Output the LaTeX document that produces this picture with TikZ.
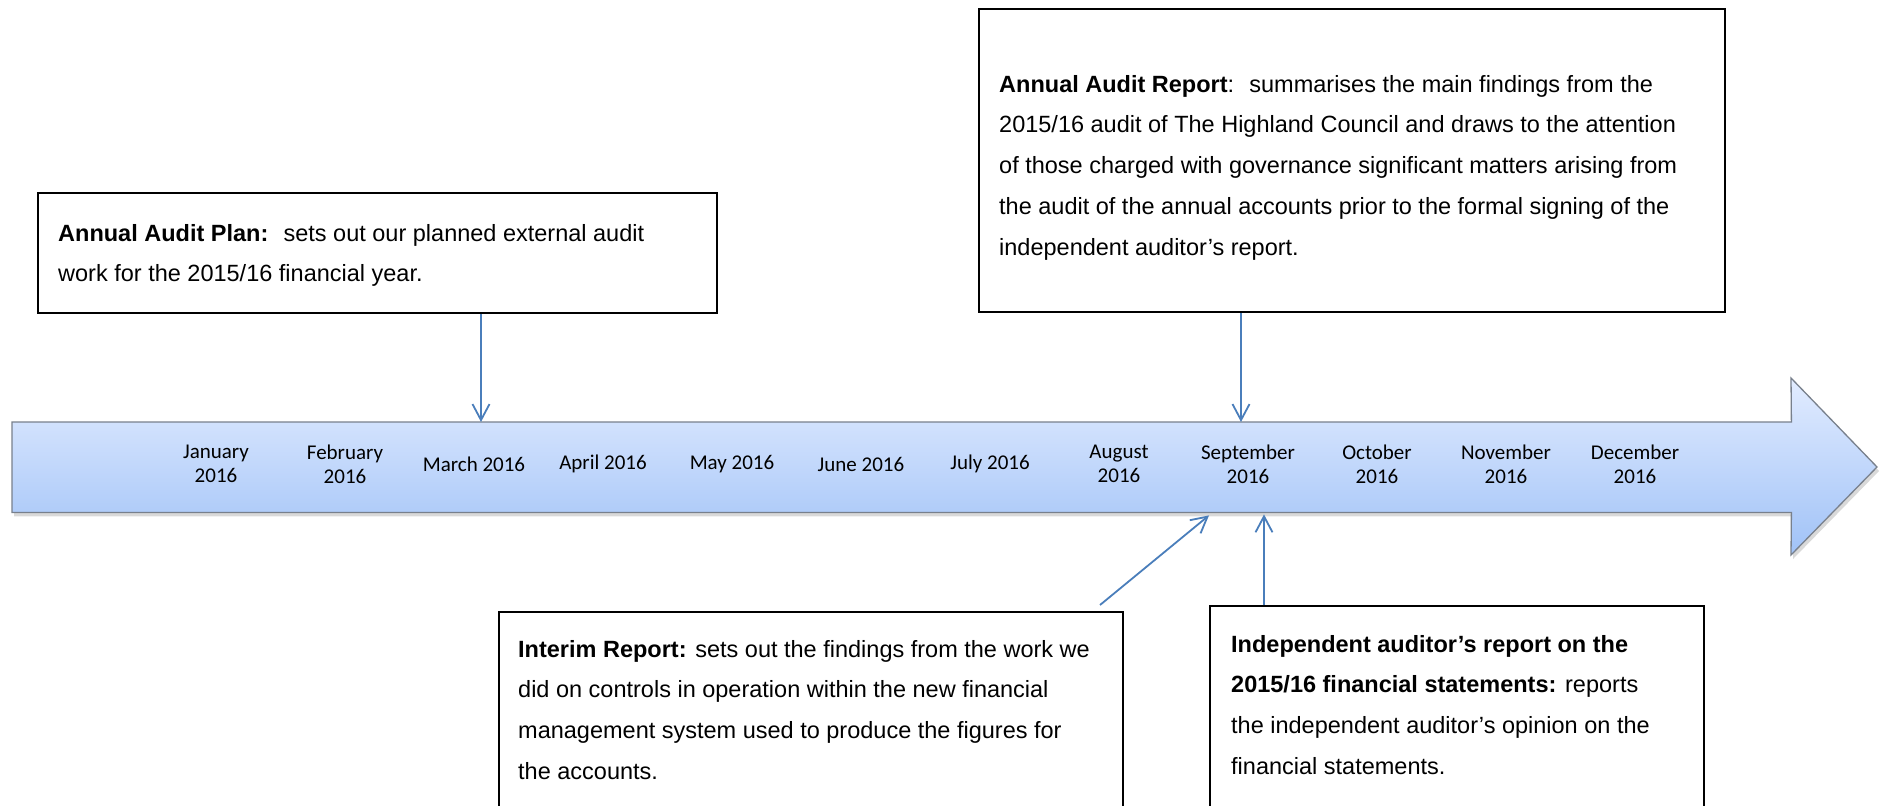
\documentclass[tikz,border=0pt]{standalone}
\usepackage{fontspec}
\setmainfont{Liberation Sans}
\newfontfamily\calib{Carlito}
\usetikzlibrary{arrows.meta,shadows,calc}
\definecolor{connblue}{RGB}{74,126,187}
\definecolor{bartop}{RGB}{226,236,255}
\definecolor{barbot}{RGB}{160,194,247}
\definecolor{barline}{RGB}{120,128,140}
\begin{document}
\begin{tikzpicture}[x=1pt,y=-1pt,
  box/.style={draw=black, line width=2pt, fill=white, inner sep=0pt, anchor=north west},
  txt/.style={inner sep=0pt, anchor=north west, align=left, font=\fontsize{23.5}{40.7}\selectfont},
  month/.style={inner sep=0pt, align=center, font=\calib\fontsize{21}{24}\selectfont},
  conn/.style={draw=connblue, line width=1.8pt, -{Straight Barb[length=16pt,width=17pt,line width=1.8pt]}}
]
\useasboundingbox (0,0) rectangle (1880,806);
\clip (0,0) rectangle (1880,806);

% timeline arrow
\node[inner sep=0pt, minimum width=1779pt, minimum height=90pt, anchor=north west] (bar) at (12,422) {};
\path[draw=barline, line width=1.3pt, top color=bartop, bottom color=barbot,
      drop shadow={opacity=0.3, shadow xshift=2pt, shadow yshift=-4pt}]
  (bar.north west) -- (bar.north east) -- (1791,378) -- (1877,467) -- (1791,555)
  -- (bar.south east) -- (bar.south west) -- cycle;

% month labels
\node[month] (m1) at (216,464) {January\\2016};
\node[month] (m2) at (345,464) {February\\2016};
\node[month] (m3) at (474,464) {March 2016};
\node[month] (m4) at (603,464) {April 2016};
\node[month] (m5) at (732,464) {May 2016};
\node[month] (m6) at (861,464) {June 2016};
\node[month] (m7) at (990,464) {July 2016};
\node[month] (m8) at (1119,464) {August\\2016};
\node[month] (m9) at (1248,464) {September\\2016};
\node[month] (m10) at (1377,464) {October\\2016};
\node[month] (m11) at (1506,464) {November\\2016};
\node[month] (m12) at (1635,464) {December\\2016};

% boxes
\node[box, minimum width=679pt, minimum height=120pt] (plan) at (37,192) {};
\node[txt] (plant) at (58,224) {\textbf{Annual Audit Plan:}~ sets out our planned external audit\\work for the 2015/16 financial year.};

\node[box, minimum width=746pt, minimum height=303pt] (rep) at (978,8) {};
\node[txt] (rept) at (999,75) {\textbf{Annual Audit Report}:~ summarises the main findings from the\\2015/16 audit of The Highland Council and draws to the attention\\of those charged with governance significant matters arising from\\the audit of the annual accounts prior to the formal signing of the\\independent auditor’s report.};

\node[box, minimum width=624pt, minimum height=260pt] (int) at (498,611) {};
\node[txt] (intt) at (518,640) {\textbf{Interim Report:} sets out the findings from the work we\\did on controls in operation within the new financial\\management system used to produce the figures for\\the accounts.};

\node[box, minimum width=494pt, minimum height=260pt] (ind) at (1209,605) {};
\node[txt] (indt) at (1231,635) {\textbf{Independent auditor’s report on the}\\\textbf{2015/16 financial statements:} reports\\the independent auditor’s opinion on the\\financial statements.};

% connectors
\coordinate (p1) at ($(plan.south west)+(444,0)$);
\draw[conn] (p1) -- (p1 |- bar.north);
\coordinate (r1) at ($(rep.south west)+(263,0)$);
\draw[conn] (r1) -- (r1 |- bar.north);
\coordinate (i1) at ($(int.north east)+(-24,-6)$);
\coordinate (i2) at ($(bar.south west)+(1197,3)$);
\draw[conn] (i1) -- (i2);
\coordinate (d1) at ($(ind.north west)+(55,0)$);
\draw[conn] (d1) -- ($(d1 |- bar.south)+(0,2)$);
\end{tikzpicture}
\end{document}
